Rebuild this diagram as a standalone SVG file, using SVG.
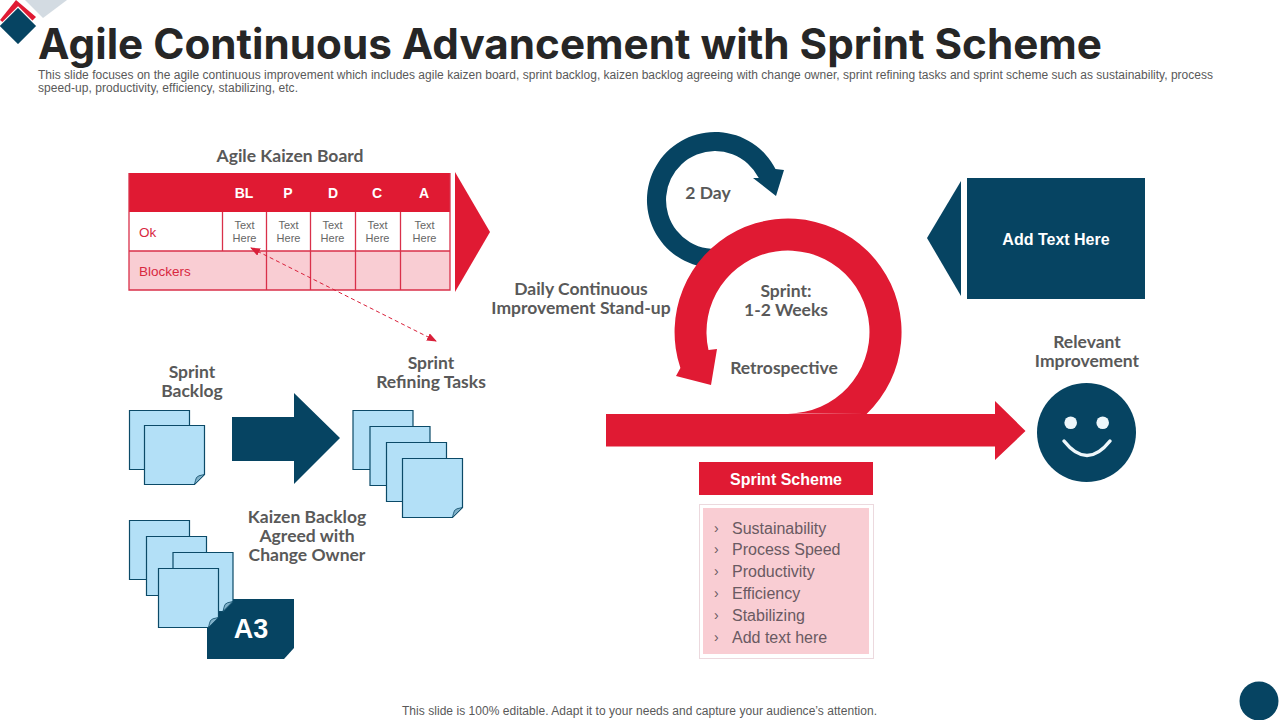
<svg xmlns="http://www.w3.org/2000/svg" xmlns:xlink="http://www.w3.org/1999/xlink" width="1280" height="720" viewBox="0 0 1280 720">
<style>
text{font-family:"Liberation Sans",Arial,sans-serif}
.title{font-family:Inter,"Liberation Sans",sans-serif;font-weight:700;font-size:42px;fill:#262626}
.desc{font-size:12px;fill:#595959}
.lbl{font-family:Lato,"Liberation Sans",sans-serif;font-weight:700;font-size:17.5px;fill:#595959;text-anchor:middle}
.hd{font-weight:700;font-size:14px;fill:#fff;text-anchor:middle}
.cell{font-size:11px;fill:#666;text-anchor:middle}
.red{font-size:13.5px;fill:#d8283f}
.wh{font-weight:700;font-size:16px;fill:#fff;text-anchor:middle}
.li{font-size:16px;fill:#6a5a62}
.chev{font-size:14px;fill:#6a5a62}
.r{fill:#e01a33}.b{fill:#064462}
.grid{stroke:#d9304a;stroke-width:1.3;fill:none}
.nb{fill:#b3e0f7;stroke:#0b4a68;stroke-width:1.2}
.nf{fill:#7fb0c8;stroke:#0b4a68;stroke-width:.8}
</style>
<defs>
<marker id="ah" viewBox="0 0 10 8" refX="9" refY="4" markerWidth="10" markerHeight="8" markerUnits="userSpaceOnUse" orient="auto-start-reverse"><path d="M0 0L10 4L0 8z" fill="#d9203a"/></marker>
<g id="note"><path class="nb" d="M0 0H60V49L50 59H0z"/><path class="nf" d="M50 59L60 49Q53 50 52 52Q51 54 50 59z"/></g>
</defs>

<g id="logo">
<polygon points="25,0 67,0 43,18" fill="#d3dbe2"/>
<polygon points="16,0 36,17 18,35 0,20" class="r"/>
<polygon points="18,7 37,26 18,45 -1,26" class="b" stroke="#fff" stroke-width="1.2"/>
</g>
<text class="title" x="38" y="59" textLength="1064" lengthAdjust="spacingAndGlyphs">Agile Continuous Advancement with Sprint Scheme</text>
<text class="desc" x="38" y="79" textLength="1175">This slide focuses on the agile continuous improvement which includes agile kaizen board, sprint backlog, kaizen backlog agreeing with change owner, sprint refining tasks and sprint scheme such as sustainability, process</text>
<text class="desc" x="38" y="92" textLength="260">speed-up, productivity, efficiency, stabilizing, etc.</text>

<g id="kaizen-board">
<text class="lbl" x="290" y="162">Agile Kaizen Board</text>
<rect x="129" y="173" width="321" height="39" class="r"/>
<rect x="129" y="212" width="321" height="39" fill="#fff"/>
<rect x="129" y="251" width="321" height="39" fill="#f9cdd3"/>
<path class="grid" d="M129 173V290H450V173M129 251H450M222.500 212V251M266.500 212V290M310.500 212V290M355.500 212V290M400.500 212V290"/>
<text class="hd" x="244" y="198">BL</text><text class="hd" x="288" y="198">P</text><text class="hd" x="333" y="198">D</text><text class="hd" x="377" y="198">C</text><text class="hd" x="424" y="198">A</text>
<text class="cell" x="244.500" y="229">Text</text><text class="cell" x="244.500" y="242">Here</text>
<text class="cell" x="288.500" y="229">Text</text><text class="cell" x="288.500" y="242">Here</text>
<text class="cell" x="332.500" y="229">Text</text><text class="cell" x="332.500" y="242">Here</text>
<text class="cell" x="377.500" y="229">Text</text><text class="cell" x="377.500" y="242">Here</text>
<text class="cell" x="424.500" y="229">Text</text><text class="cell" x="424.500" y="242">Here</text>
<text class="red" x="139" y="237">Ok</text>
<text class="red" x="139" y="276">Blockers</text>
<polygon class="r" points="455,172 490,232 455,292"/>
</g>

<g id="connectors">
<line x1="251" y1="248" x2="436" y2="341" stroke="#d9203a" stroke-width="1" stroke-dasharray="4 3" marker-start="url(#ah)" marker-end="url(#ah)"/>
<polygon class="b" points="232,417 294,417 294,393 340,438 294,484 294,461 232,461"/>
</g>

<g id="sprint-backlog">
<text class="lbl" x="192" y="378">Sprint</text><text class="lbl" x="192" y="397">Backlog</text>
<use xlink:href="#note" href="#note" x="129.500" y="410.500"/>
<use xlink:href="#note" href="#note" x="144.500" y="425.500"/>
</g>

<g id="refining-tasks">
<text class="lbl" x="431" y="369">Sprint</text><text class="lbl" x="431" y="388">Refining Tasks</text>
<use xlink:href="#note" href="#note" x="353" y="410.500"/>
<use xlink:href="#note" href="#note" x="370" y="426.500"/>
<use xlink:href="#note" href="#note" x="386.500" y="442.500"/>
<use xlink:href="#note" href="#note" x="402.500" y="458.500"/>
</g>

<g id="kaizen-backlog">
<text class="lbl" x="307" y="523">Kaizen Backlog</text><text class="lbl" x="307" y="542">Agreed with</text><text class="lbl" x="307" y="561">Change Owner</text>
<path class="b" d="M207 599H294V648L284 659H207z"/>
<use xlink:href="#note" href="#note" x="129.500" y="520.500"/>
<use xlink:href="#note" href="#note" x="146.500" y="536.500"/>
<use xlink:href="#note" href="#note" x="173" y="552.500"/>
<use xlink:href="#note" href="#note" x="158.500" y="568.500"/>
<text x="251" y="638" font-weight="700" font-size="27" fill="#fff" text-anchor="middle">A3</text>
</g>

<g id="daily-loop">
<path class="b" d="M710 267.800A68 68 0 1 1 775.500 169L784 170L776 196L753 178L758.800 178A49 49 0 1 0 725 248z"/>
<text class="lbl" x="708" y="199">2 Day</text>
</g>
<text class="lbl" x="581" y="295">Daily Continuous</text><text class="lbl" x="581" y="314">Improvement Stand-up</text>

<g id="sprint-loop">
<path class="r" d="M866.600 414A113.500 113.500 0 1 0 680.400 368L676 376L711 385L717 349L708.500 350A81.500 81.500 0 1 1 788 413.500z"/>
<polygon class="r" points="606,414 995,414 995,401 1025.500,431 995,460 995,446.500 606,446.500"/>
<text class="lbl" x="786" y="297">Sprint:</text><text class="lbl" x="786" y="316">1-2 Weeks</text>
<text class="lbl" x="784" y="374">Retrospective</text>
</g>

<g id="sprint-scheme">
<rect x="699" y="462" width="174" height="33" class="r"/>
<text class="wh" x="786" y="485">Sprint Scheme</text>
<rect x="699.500" y="504.500" width="174" height="154" fill="#fff" stroke="#ecd9de"/>
<rect x="703" y="508" width="166" height="146" fill="#f9cdd3"/>
<text class="chev" x="714" y="533">›</text><text class="li" x="732" y="534">Sustainability</text>
<text class="chev" x="714" y="554">›</text><text class="li" x="732" y="555">Process Speed</text>
<text class="chev" x="714" y="576">›</text><text class="li" x="732" y="577">Productivity</text>
<text class="chev" x="714" y="598">›</text><text class="li" x="732" y="599">Efficiency</text>
<text class="chev" x="714" y="620">›</text><text class="li" x="732" y="621">Stabilizing</text>
<text class="chev" x="714" y="642">›</text><text class="li" x="732" y="643">Add text here</text>
</g>

<g id="add-text">
<polygon class="b" points="961,181 927,238 961,296"/>
<rect x="967" y="178" width="178" height="121" class="b"/>
<text class="wh" x="1056" y="245">Add Text Here</text>
</g>

<g id="relevant-improvement">
<text class="lbl" x="1087" y="348">Relevant</text><text class="lbl" x="1087" y="367">Improvement</text>
<circle class="b" cx="1086.500" cy="432.500" r="49.500"/>
<circle cx="1070.700" cy="422.700" r="6.300" fill="#eef7fb"/>
<circle cx="1102.700" cy="422.700" r="6.300" fill="#eef7fb"/>
<path d="M1064 441Q1087 470 1110 441" fill="none" stroke="#eef7fb" stroke-width="3.500" stroke-linecap="round"/>
</g>

<text class="desc" x="402" y="715" textLength="475">This slide is 100% editable. Adapt it to your needs and capture your audience’s attention.</text>
<circle id="corner-dot" class="b" cx="1259" cy="701" r="19.500"/>
</svg>
